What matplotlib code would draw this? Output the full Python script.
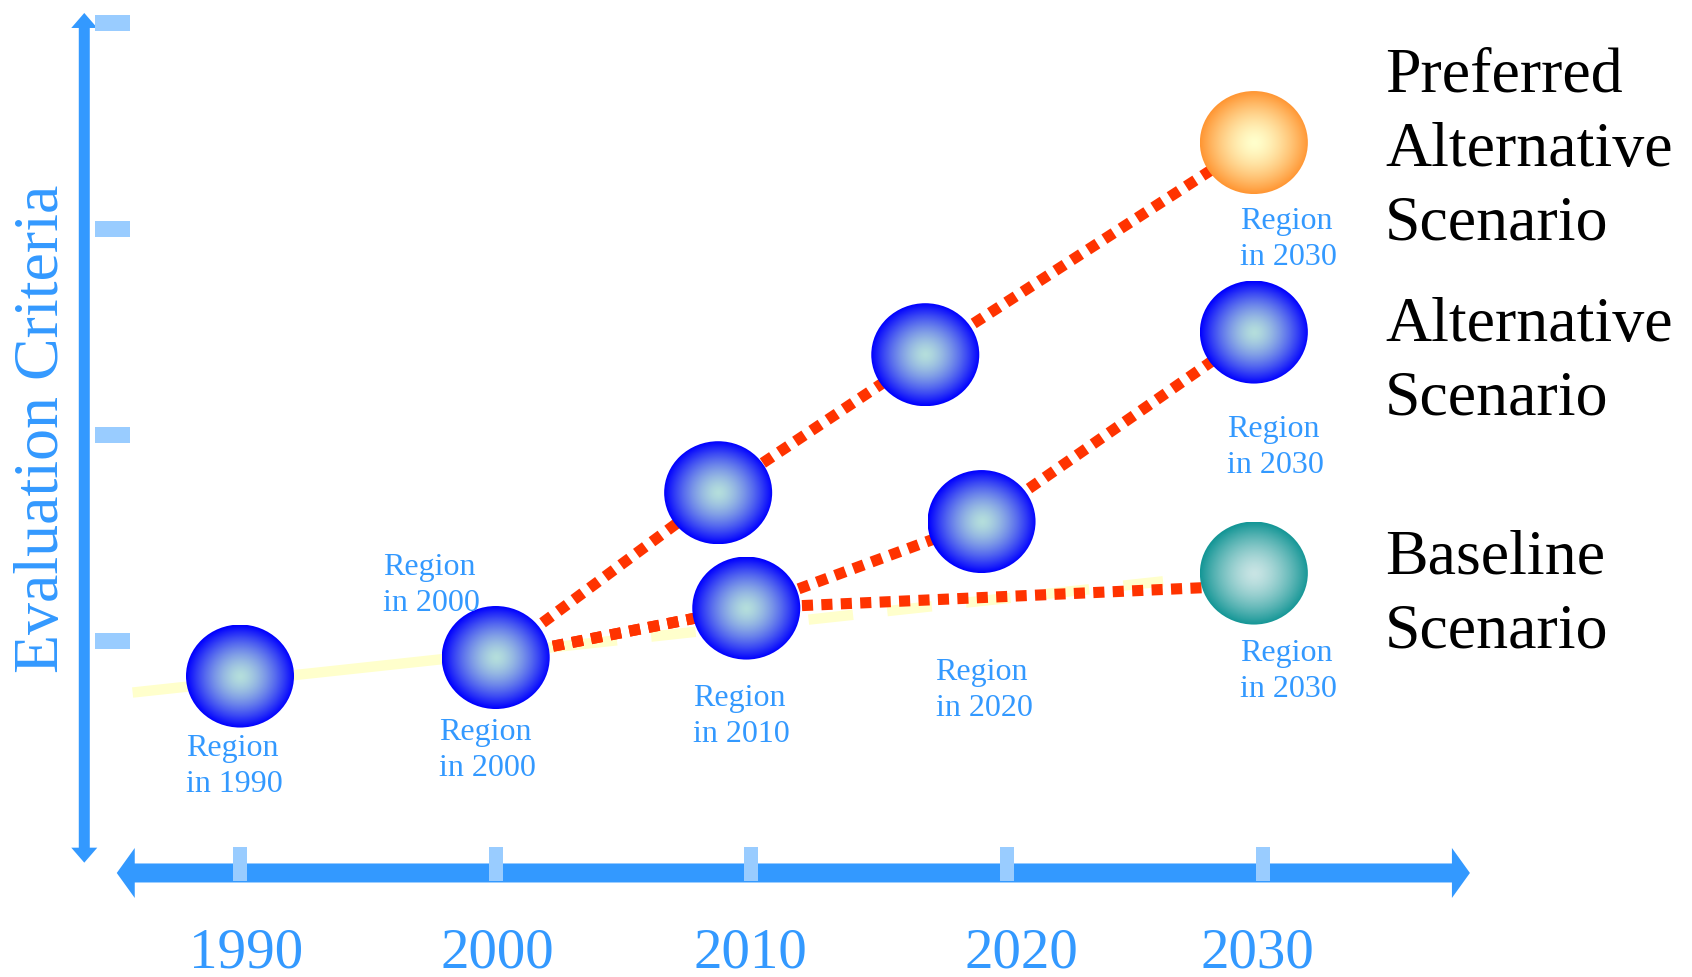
import numpy as np
import matplotlib
matplotlib.use("Agg")
import matplotlib.pyplot as plt
import matplotlib.colors as mcolors
from matplotlib.patches import Ellipse, Polygon, Rectangle

# ---- data ----
years = [1990, 2000, 2010, 2020, 2030]
year_label_x = [1990.25, 2000.05, 2009.95, 2020.55, 2029.8]
criteria_levels = [1, 2, 3, 4]

# preferred alternative path
pref_x = [2000, 2008.7, 2016.8, 2029.65]
pref_y = [0.92, 1.72, 2.39, 3.42]
# alternative path
alt_x = [2000, 2009.8, 2019.0, 2029.65]
alt_y = [0.92, 1.16, 1.58, 2.50]
# baseline path
base_x = [2000, 2009.8, 2029.65]
base_y = [0.92, 1.16, 1.27]
# pale trend line (solid part, dashed part)
trend_solid_x = [1985.8, 2003.0]
trend_solid_y = [0.75, 0.98]
trend_dash_x = [2003.0, 2026.1]
trend_dash_y = [0.98, 1.29]

# region spheres: x, y, colour style
sphere_x = [1990, 2000, 2008.7, 2009.8, 2016.8, 2019.0, 2029.65, 2029.65, 2029.65]
sphere_y = [0.83, 0.92, 1.72, 1.16, 2.39, 1.58, 3.42, 2.50, 1.33]
sphere_kind = ["blue", "blue", "blue", "blue", "blue", "blue", "orange", "blue", "teal"]

# small region labels
region_labels = ["Region\nin 1990", "Region\nin 2000", "Region\nin 2000", "Region\nin 2010",
                 "Region\nin 2020", "Region\nin 2030", "Region\nin 2030", "Region\nin 2030"]
region_label_x = [1987.9, 1995.6, 1997.8, 2007.7, 2017.2, 2029.1, 2028.6, 2029.1]
region_label_y = [0.39, 1.27, 0.47, 0.635, 0.76, 2.95, 1.94, 0.85]

scenario_labels = ["Preferred\nAlternative\nScenario", "Alternative\nScenario", "Baseline\nScenario"]
scenario_y = [3.38, 2.35, 1.22]

# ---- styles ----
AXIS_BLUE = "#3399FF"
TICK_BLUE = "#99CCFF"
RED = "#FF3300"
PALE = "#FFFFCC"
SPHERE_COLS = {"blue": ("#B4DEDC", "#0000FF"),
               "orange": ("#FFFFCC", "#FF9633"),
               "teal": ("#C8E4E4", "#149696")}

PX_X = 25.57   # pixels per year
PX_Y = 206.0   # pixels per criteria unit

plt.rcParams['font.family'] = ['Liberation Serif', 'DejaVu Serif']

fig = plt.figure(figsize=(16.92, 9.77), dpi=100)
ax = fig.add_axes([0, 0, 1, 1])
ax.set_axis_off()


def px_w(p):
    return p / PX_X


def px_h(p):
    return p / PX_Y


# ---- axes arrows ----
yc = -0.126
x0, x1 = 1985.18, 2038.10
L, H, T = px_w(18), px_h(50), px_h(19)
xarrow = [(x0, yc), (x0 + L, yc + H / 2), (x0 + L, yc + T / 2), (x1 - L, yc + T / 2),
          (x1 - L, yc + H / 2), (x1, yc), (x1 - L, yc - H / 2), (x1 - L, yc - T / 2),
          (x0 + L, yc - T / 2), (x0 + L, yc - H / 2)]
ax.add_patch(Polygon(xarrow, closed=True, facecolor=AXIS_BLUE, edgecolor='none', zorder=1))

xc = 1983.91
y0, y1 = -0.076, 4.049
W, HW, HL = px_w(11), px_w(26), px_h(15)
yarrow = [(xc, y1), (xc + HW / 2, y1 - HL), (xc + W / 2, y1 - HL), (xc + W / 2, y0 + HL),
          (xc + HW / 2, y0 + HL), (xc, y0), (xc - HW / 2, y0 + HL), (xc - W / 2, y0 + HL),
          (xc - W / 2, y1 - HL), (xc - HW / 2, y1 - HL)]
ax.add_patch(Polygon(yarrow, closed=True, facecolor=AXIS_BLUE, edgecolor='none', zorder=1))

for yr in years:
    ax.add_patch(Rectangle((yr - px_w(7), -0.165), px_w(14), 0.165, facecolor=TICK_BLUE,
                           edgecolor='none', zorder=2))
for yr, lx in zip(years, year_label_x):
    ax.text(lx, -0.517, str(yr), color=AXIS_BLUE, fontsize=41, ha='center', va='center')

for lv in criteria_levels:
    ax.add_patch(Rectangle((1984.33, lv - px_h(8)), px_w(35), px_h(16), facecolor=TICK_BLUE,
                           edgecolor='none', zorder=2))

ax.text(1982.3, 2.03, "Evaluation Criteria", color=AXIS_BLUE, fontsize=46, rotation=90,
        ha='center', va='center')

# ---- trend and scenario lines ----
ax.plot(trend_solid_x, trend_solid_y, color=PALE, lw=7.5, solid_capstyle='butt', zorder=2)
ax.plot(trend_dash_x, trend_dash_y, color=PALE, lw=7.5, dashes=(4.3, 3.3),
        dash_capstyle='butt', zorder=2)

for xs, ys in [(base_x, base_y), (alt_x, alt_y), (pref_x, pref_y)]:
    ax.plot(xs, ys, color=RED, lw=8, dashes=(1.0, 0.75), dash_capstyle='butt', zorder=3)

# ---- spheres ----
w, h = px_w(108), px_h(103)
g = np.linspace(-1, 1, 121)
gx, gy = np.meshgrid(g, g)
rr = np.clip(np.sqrt(gx ** 2 + gy ** 2), 0, 1) ** 1.5
for sx, sy, kind in zip(sphere_x, sphere_y, sphere_kind):
    c0 = np.array(mcolors.to_rgb(SPHERE_COLS[kind][0]))
    c1 = np.array(mcolors.to_rgb(SPHERE_COLS[kind][1]))
    img = c0 + (c1 - c0) * rr[..., None]
    im = ax.imshow(img, extent=[sx - w / 2, sx + w / 2, sy - h / 2, sy + h / 2], origin='lower',
                   interpolation='bilinear', aspect='auto', zorder=4)
    clip = Ellipse((sx, sy), w, h, facecolor='none', edgecolor='none')
    ax.add_patch(clip)
    im.set_clip_path(clip)

# ---- labels ----
for txt, lx, ly in zip(region_labels, region_label_x, region_label_y):
    ax.text(lx, ly, txt, color=AXIS_BLUE, fontsize=23, ha='left', va='center',
            linespacing=1.32, zorder=5)

for txt, ly in zip(scenario_labels, scenario_y):
    ax.text(2034.78, ly, txt, color='black', fontsize=46, ha='left', va='center',
            linespacing=1.36, zorder=5)

ax.set_xlim(1980.614, 2046.785)
ax.set_ylim(-0.631, 4.112)

fig.savefig("out.png", dpi=100, facecolor='white')
